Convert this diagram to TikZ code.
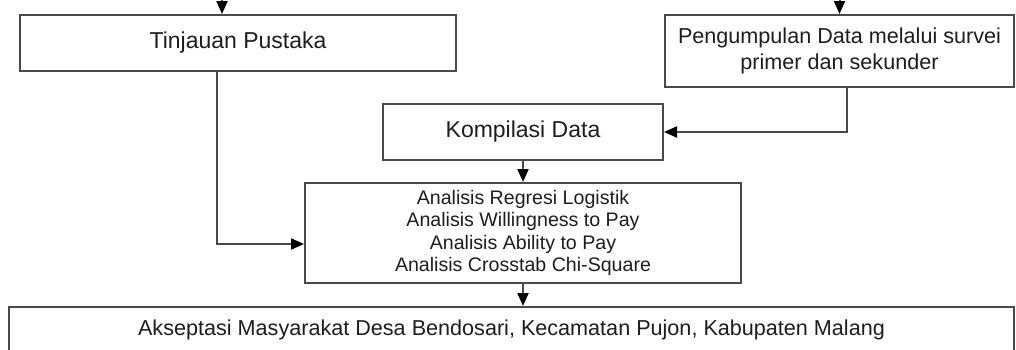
\documentclass[tikz,border=0pt]{standalone}
\usepackage{fontspec}
\setmainfont{Liberation Sans}
\usetikzlibrary{arrows.meta,positioning}
\definecolor{ink}{HTML}{1E1E1E}
\definecolor{frame}{HTML}{4A4A4A}
\tikzset{
  box/.style={draw=frame,line width=2pt,fill=white,align=center,text=ink,inner sep=0pt},
  big/.style={font=\fontsize{23}{27}\selectfont},
  mid/.style={font=\fontsize{21.6}{26}\selectfont},
  small/.style={font=\fontsize{19.6}{22.5}\selectfont},
  ar/.style={-{Triangle[length=13pt,width=11pt,black]},draw=frame,line width=2pt},
}
\begin{document}
\begin{tikzpicture}[x=1pt,y=-1pt]
\clip (0,0) rectangle (1016,349);
% boxes
\node[box,big,minimum width=436pt,minimum height=56pt] (tinjauan) at (238,43) {Tinjauan Pustaka};
\node[box,mid,minimum width=349pt,minimum height=72pt] (pengumpulan) at (839.5,51) {Pengumpulan Data melalui survei\\primer dan sekunder};
\node[box,big,minimum width=280pt,minimum height=56pt] (kompilasi) at (523,132) {Kompilasi Data};
\node[box,small,minimum width=436pt,minimum height=100pt] (analisis) at (523,233) {Analisis Regresi Logistik\\Analisis Willingness to Pay\\Analisis Ability to Pay\\Analisis Crosstab Chi-Square};
\node[box,mid,minimum width=1005pt,minimum height=46pt] (akseptasi) at (511.5,330) {Akseptasi Masyarakat Desa Bendosari, Kecamatan Pujon, Kabupaten Malang};
% free ends
\coordinate (inTin) at (222,0);
\coordinate (inPeng) at (839.5,0);
\coordinate (tinOut) at (217,244);
\coordinate (pengOut) at (847,132);
% connectors
\draw[ar] (inTin) -- (inTin |- tinjauan.north);
\draw[ar] (inPeng) -- (pengumpulan.north);
\draw[ar] (tinjauan.south -| tinOut) |- (tinOut -| analisis.west);
\draw[ar] (pengumpulan.south -| pengOut) |- (kompilasi.east);
\draw[ar] (kompilasi.south) -- (analisis.north);
\draw[ar] (analisis.south) -- (analisis.south |- akseptasi.north);
\end{tikzpicture}
\end{document}
